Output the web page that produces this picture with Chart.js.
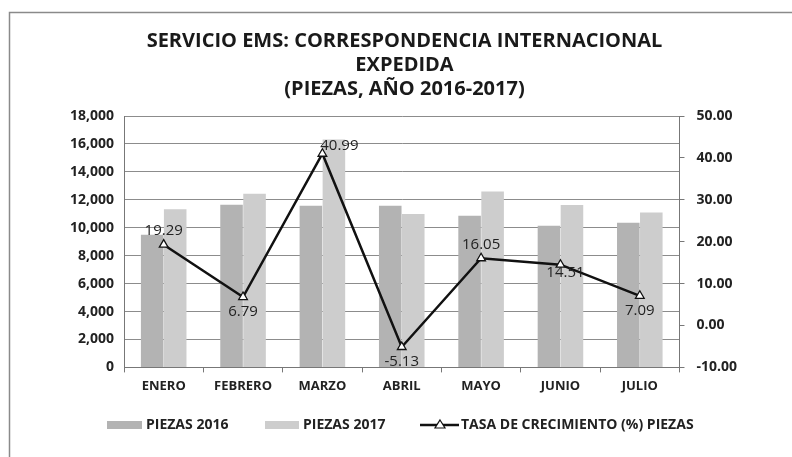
<!DOCTYPE html>
<html>
<head>
<meta charset="utf-8">
<script src="https://cdn.jsdelivr.net/npm/chart.js@4"></script>
<style>
  html, body { margin: 0; padding: 0; background: #fff; }
  #wrap { width: 792px; height: 457px; position: relative; }
</style>
</head>
<body>
<div id="wrap"><canvas id="grafica" width="792" height="457"></canvas></div>
<script>
// datos
const meses = ['ENERO', 'FEBRERO', 'MARZO', 'ABRIL', 'MAYO', 'JUNIO', 'JULIO'];
const piezas2016 = [9500, 11640, 11570, 11570, 10860, 10150, 10360];
const piezas2017 = [11330, 12430, 16310, 10980, 12600, 11620, 11090];
const tasaCrecimiento = [19.29, 6.79, 40.99, -5.13, 16.05, 14.51, 7.09];

// donde va cada etiqueta de la linea
const posEtiquetas = ['top', 'bottom', 'top', 'bottom', 'top', 'bottom', 'bottom'];

const FUENTE = '"Open Sans", Lato, sans-serif';

// marco de la imagen + etiquetas de la linea + leyenda
const extras = {
  id: 'extras',
  beforeDraw(chart) {
    const ctx = chart.ctx;
    ctx.save();
    ctx.strokeStyle = '#8a8a8a';
    ctx.lineWidth = 1.5;
    ctx.beginPath();
    ctx.moveTo(9.5, 457);
    ctx.lineTo(9.5, 12.5);
    ctx.lineTo(792, 12.5);
    ctx.stroke();
    ctx.restore();
  },
  afterDatasetsDraw(chart) {
    const ctx = chart.ctx;
    const meta = chart.getDatasetMeta(2);
    ctx.save();
    ctx.font = '15px ' + FUENTE;
    ctx.fillStyle = '#222';
    ctx.textAlign = 'center';
    meta.data.forEach((pt, i) => {
      const txt = tasaCrecimiento[i].toFixed(2);
      let dx = 0;
      let y;
      if (posEtiquetas[i] === 'top') {
        ctx.textBaseline = 'bottom';
        y = pt.y - 6;
        if (i === 2) { dx = 17; y = pt.y - 1; }
      } else {
        ctx.textBaseline = 'top';
        y = pt.y + 7;
        if (i === 5) { y = pt.y + 1; dx = 5; }
      }
      ctx.fillText(txt, pt.x + dx, y);
    });
    ctx.restore();
  },
  afterDraw(chart) {
    const ctx = chart.ctx;
    const y = 425;
    ctx.save();
    ctx.font = 'bold 14px ' + FUENTE;
    ctx.textBaseline = 'middle';
    // PIEZAS 2016
    ctx.fillStyle = '#b3b3b3';
    ctx.fillRect(107, y - 4, 35, 8);
    ctx.fillStyle = '#222';
    ctx.fillText('PIEZAS 2016', 146, y);
    // PIEZAS 2017
    ctx.fillStyle = '#cdcdcd';
    ctx.fillRect(265, y - 4, 34, 8);
    ctx.fillStyle = '#222';
    ctx.fillText('PIEZAS 2017', 303, y);
    // linea
    ctx.strokeStyle = '#111';
    ctx.lineWidth = 2.5;
    ctx.beginPath();
    ctx.moveTo(420, y);
    ctx.lineTo(459, y);
    ctx.stroke();
    ctx.lineWidth = 1.2;
    ctx.fillStyle = '#fff';
    ctx.beginPath();
    ctx.moveTo(440, y - 5);
    ctx.lineTo(445, y + 3);
    ctx.lineTo(435, y + 3);
    ctx.closePath();
    ctx.fill();
    ctx.stroke();
    ctx.fillStyle = '#222';
    ctx.fillText('TASA DE CRECIMIENTO (%) PIEZAS', 461, y);
    ctx.restore();
  }
};

new Chart(document.getElementById('grafica'), {
  data: {
    labels: meses,
    datasets: [
      {
        type: 'bar',
        label: 'PIEZAS 2016',
        data: piezas2016,
        backgroundColor: '#b3b3b3',
        yAxisID: 'y',
        order: 2
      },
      {
        type: 'bar',
        label: 'PIEZAS 2017',
        data: piezas2017,
        backgroundColor: '#cdcdcd',
        yAxisID: 'y',
        order: 2
      },
      {
        type: 'line',
        label: 'TASA DE CRECIMIENTO (%) PIEZAS',
        data: tasaCrecimiento,
        borderColor: '#111',
        borderWidth: 2.5,
        tension: 0,
        pointStyle: 'triangle',
        pointRadius: 5,
        pointBackgroundColor: '#fff',
        pointBorderColor: '#111',
        pointBorderWidth: 1.3,
        yAxisID: 'y1',
        order: 1
      }
    ]
  },
  options: {
    responsive: false,
    animation: false,
    layout: { padding: { left: 60, right: 43, top: 0, bottom: 57 } },
    datasets: {
      bar: { categoryPercentage: 0.58, barPercentage: 0.98 }
    },
    plugins: {
      legend: { display: false },
      tooltip: { enabled: false },
      title: {
        display: true,
        text: ['SERVICIO EMS: CORRESPONDENCIA INTERNACIONAL', 'EXPEDIDA', '(PIEZAS, AÑO 2016-2017)'],
        color: '#1a1a1a',
        font: { family: FUENTE, size: 20, weight: 'bold', lineHeight: 1.2 },
        padding: { top: 29, bottom: 15 }
      }
    },
    scales: {
      x: {
        grid: { display: true, drawOnChartArea: false, drawTicks: true, tickLength: 5, color: '#777', offset: true },
        border: { color: '#777' },
        ticks: { color: '#222', font: { family: FUENTE, size: 13, weight: 'bold' }, padding: 6 }
      },
      y: {
        position: 'left',
        min: 0,
        max: 18000,
        ticks: {
          stepSize: 2000,
          color: '#222',
          font: { family: FUENTE, size: 14, weight: 'bold' },
          padding: 10,
          callback: v => v.toLocaleString('en-US')
        },
        grid: { color: '#8c8c8c', lineWidth: 1, drawTicks: false },
        border: { color: '#777', display: true }
      },
      y1: {
        position: 'right',
        min: -10,
        max: 50,
        ticks: {
          stepSize: 10,
          color: '#222',
          font: { family: FUENTE, size: 14, weight: 'bold' },
          padding: 12,
          callback: v => v.toFixed(2)
        },
        grid: { drawOnChartArea: false, tickLength: 5, color: '#777' },
        border: { color: '#777' }
      }
    }
  },
  plugins: [extras]
});
</script>
</body>
</html>
